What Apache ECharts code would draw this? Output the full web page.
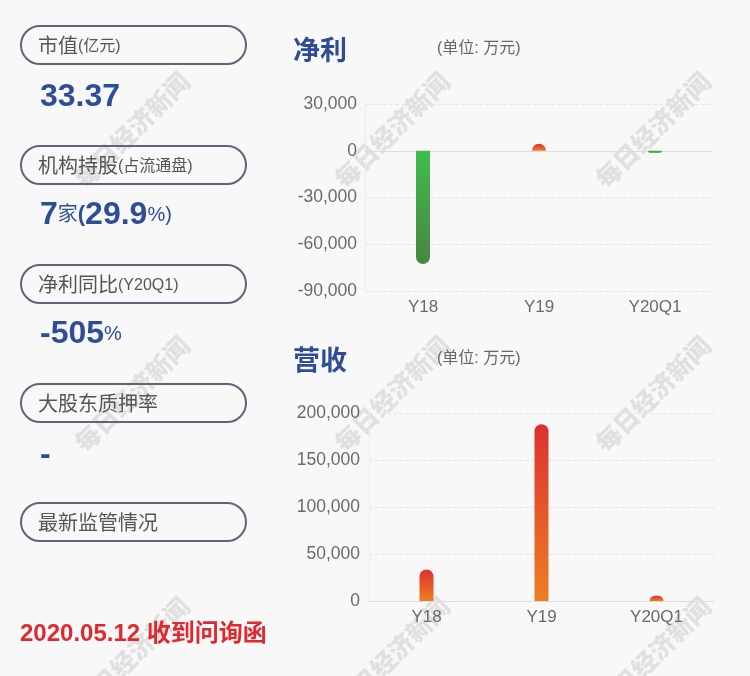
<!DOCTYPE html>
<html><head><meta charset="utf-8">
<script src="https://cdn.jsdelivr.net/npm/echarts@6/dist/echarts.min.js"></script>
<style>html,body{margin:0;padding:0;background:#f8f8f8;}#c{width:750px;height:676px;}</style>
</head><body><div id="c"></div>
<script>
const categories = ['Y18', 'Y19', 'Y20Q1'];
const netProfit = [-72700, 4500, -1300];
const revenue = [33500, 188000, 5500];
const profitAxis = { min: -90000, max: 30000, interval: 30000 };
const revenueAxis = { min: 0, max: 200000, interval: 50000 };
const panelLabels = [
  { main: '市值', sub: '(亿元)' },
  { main: '机构持股', sub: '(占流通盘)' },
  { main: '净利同比', sub: '(Y20Q1)' },
  { main: '大股东质押率', sub: '' },
  { main: '最新监管情况', sub: '' }
];
const noticeText = '2020.05.12 收到问询函';

const FONT = '"Liberation Sans", Arial, "Noto Sans CJK SC", sans-serif';
const BLUE = '#2f4c97';
const chart = echarts.init(document.getElementById('c'));

function posGrad() {
  return new echarts.graphic.LinearGradient(0, 0, 0, 1, [
    { offset: 0, color: '#dc3131' }, { offset: 1, color: '#ee7e22' }]);
}
function negGrad() {
  return new echarts.graphic.LinearGradient(0, 0, 0, 1, [
    { offset: 0, color: '#3fbd50' }, { offset: 1, color: '#4a8540' }]);
}
function styled(arr) {
  return arr.map(v => ({
    value: v,
    itemStyle: v >= 0 ? { color: posGrad(), borderRadius: [7, 7, 0, 0] }
                      : { color: negGrad(), borderRadius: [0, 0, 7, 7] }
  }));
}

const graphics = [];
[132, 392, 653].forEach(x => [130, 394, 655].forEach(y => {
  graphics.push({ type: 'text', x: x, y: y, rotation: Math.PI / 4, z: -10, silent: true,
    style: { text: '每日经济新闻', align: 'center', verticalAlign: 'middle',
      font: '900 25px "Noto Sans CJK SC"', fill: 'rgba(175,175,175,0.32)' } });
}));
const boxTops = [26, 146, 265, 384, 503];
panelLabels.forEach((p, i) => {
  graphics.push({ type: 'rect', shape: { x: 21, y: boxTops[i], width: 225, height: 38, r: 19 },
    style: { fill: 'none', stroke: '#5b6677', lineWidth: 2 } });
  graphics.push({ type: 'text', x: 38, y: boxTops[i] + 21,
    style: { text: '{a|' + p.main + '}' + (p.sub ? '{b|' + p.sub + '}' : ''), verticalAlign: 'middle',
      rich: { a: { fontSize: 20, fontFamily: FONT, fill: '#555' }, b: { fontSize: 16, fontFamily: FONT, fill: '#555' } } } });
});
const bigRich = {
  n: { fontSize: 32, fontWeight: 'bold', fontFamily: FONT, fill: BLUE },
  s: { fontSize: 20, fontFamily: FONT, fill: BLUE },
  p: { fontSize: 22, fontWeight: 'bold', fontFamily: FONT, fill: BLUE }
};
graphics.push({ type: 'text', x: 40, y: 97, style: { text: '{n|33.37}', verticalAlign: 'middle', rich: bigRich } });
graphics.push({ type: 'text', x: 40, y: 215, style: { text: '{n|7}{s|家}{p|(}{n|29.9}{s|%)}', verticalAlign: 'middle', rich: bigRich } });
graphics.push({ type: 'text', x: 40, y: 334, style: { text: '{n|-505}{s|%}', verticalAlign: 'middle', rich: bigRich } });
graphics.push({ type: 'text', x: 40, y: 455, style: { text: '{n|-}', verticalAlign: 'middle', rich: bigRich } });
graphics.push({ type: 'text', x: 20, y: 634, style: { text: noticeText, verticalAlign: 'middle',
  font: 'bold 24px ' + FONT, fill: '#e0282e' } });

graphics.push({ type: 'text', x: 293, y: 50, style: { text: '净利', verticalAlign: 'middle', font: 'bold 27px "Noto Sans CJK SC"', fill: BLUE } });
graphics.push({ type: 'text', x: 293, y: 360, style: { text: '营收', verticalAlign: 'middle', font: 'bold 27px "Noto Sans CJK SC"', fill: BLUE } });
graphics.push({ type: 'text', x: 437, y: 49, style: { text: '(单位: 万元)', verticalAlign: 'middle', font: '16px ' + FONT, fill: '#666' } });
graphics.push({ type: 'text', x: 437, y: 359, style: { text: '(单位: 万元)', verticalAlign: 'middle', font: '16px ' + FONT, fill: '#666' } });

const axisLabel = { color: '#6a6a6a', fontSize: 17.5, fontFamily: FONT };
chart.setOption({
  backgroundColor: '#f8f8f8',
  animation: false,
  grid: [
    { left: 365, right: 37, top: 104, bottom: 385 },
    { left: 369, right: 36, top: 413, bottom: 75 }
  ],
  xAxis: [
    { type: 'category', gridIndex: 0, data: categories, axisLine: { show: false, onZero: false },
      axisTick: { show: false }, axisLabel: Object.assign({}, axisLabel, { margin: 8, fontSize: 17 }) },
    { type: 'category', gridIndex: 1, data: categories, axisLine: { lineStyle: { color: '#dcdcdc' } },
      axisTick: { show: false }, axisLabel: Object.assign({}, axisLabel, { margin: 8, fontSize: 17 }) }
  ],
  yAxis: [
    { type: 'value', gridIndex: 0, min: profitAxis.min, max: profitAxis.max, interval: profitAxis.interval,
      axisLine: { show: true, lineStyle: { color: '#ebebeb' } }, axisTick: { show: false },
      axisLabel: Object.assign({ margin: 8 }, axisLabel),
      splitLine: { lineStyle: { type: 'dashed', color: '#e6e6e6' } } },
    { type: 'value', gridIndex: 1, min: revenueAxis.min, max: revenueAxis.max, interval: revenueAxis.interval,
      axisLine: { show: true, lineStyle: { color: '#ebebeb' } }, axisTick: { show: false },
      axisLabel: Object.assign({ margin: 9 }, axisLabel),
      splitLine: { lineStyle: { type: 'dashed', color: '#e6e6e6' } } }
  ],
  series: [
    { type: 'bar', xAxisIndex: 0, yAxisIndex: 0, barWidth: 14, z: 3, data: styled(netProfit),
      markLine: { silent: true, symbol: 'none', z: 1, label: { show: false },
        lineStyle: { type: 'solid', color: '#dcdcdc', width: 1 }, data: [{ yAxis: 0 }] } },
    { type: 'bar', xAxisIndex: 1, yAxisIndex: 1, barWidth: 14, data: styled(revenue) }
  ],
  graphic: graphics
});
</script></body></html>
